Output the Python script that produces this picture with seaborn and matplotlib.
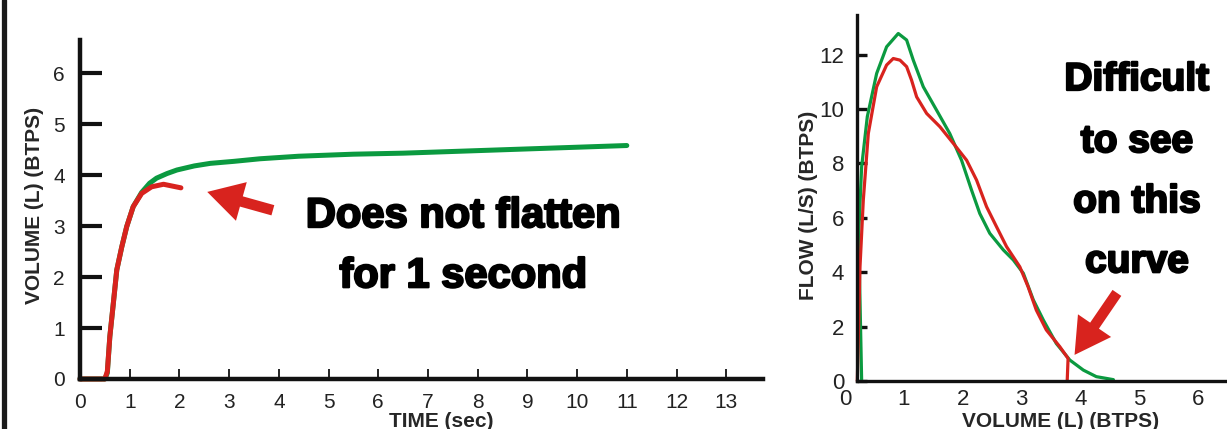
import matplotlib
matplotlib.use("Agg")
import matplotlib.pyplot as plt
import matplotlib.patheffects as pe
from matplotlib.lines import Line2D
import seaborn as sns
import numpy as np

# ---------------- data ----------------
# Volume-time curves (left panel)
vt_green_time = [0, 0.5, 0.55, 0.6, 0.67, 0.74, 0.84, 0.94, 1.07, 1.24, 1.4, 1.54,
                 1.75, 1.95, 2.3, 2.62, 3.1, 3.62, 4.4, 5.5, 6.5, 8.0, 9.5, 11.0]
vt_green_vol = [0, 0, 0.12, 0.83, 1.48, 2.14, 2.59, 2.99, 3.38, 3.66, 3.84, 3.94,
                4.03, 4.1, 4.18, 4.23, 4.27, 4.32, 4.37, 4.41, 4.43, 4.48, 4.53, 4.58]
vt_red_time = [0, 0.5, 0.55, 0.6, 0.67, 0.74, 0.84, 0.94, 1.07, 1.24, 1.44, 1.68, 1.88, 2.03]
vt_red_vol = [0, 0, 0.15, 0.83, 1.48, 2.14, 2.59, 2.99, 3.38, 3.64, 3.77, 3.82, 3.78, 3.75]

# Flow-volume curves (right panel)
fv_green_vol = [0.283, 0.255, 0.232, 0.283, 0.379, 0.538, 0.707, 0.905, 1.047, 1.16,
                1.33, 1.556, 1.78, 1.98, 2.15, 2.29, 2.46, 2.69, 2.86, 3.03, 3.2,
                3.37, 3.59, 3.82, 4.05, 4.27, 4.56]
fv_green_flow = [0.0, 2.98, 5.43, 7.88, 9.72, 11.31, 12.29, 12.78, 12.54, 11.8,
                 10.82, 9.96, 9.1, 8.12, 7.02, 6.16, 5.43, 4.82, 4.45, 3.96, 2.98,
                 2.24, 1.38, 0.77, 0.40, 0.16, 0.05]
fv_red_vol = [0.209, 0.255, 0.311, 0.396, 0.538, 0.707, 0.82, 0.934, 1.047, 1.13,
              1.217, 1.387, 1.613, 1.84, 2.066, 2.235, 2.405, 2.575, 2.745, 2.97,
              3.11, 3.25, 3.42, 3.65, 3.79, 3.775]
fv_red_flow = [0.0, 4.2, 6.65, 9.1, 10.82, 11.62, 11.86, 11.8, 11.56, 11.07,
               10.45, 9.84, 9.35, 8.74, 8.12, 7.39, 6.41, 5.67, 4.94, 4.2,
               3.47, 2.61, 1.88, 1.26, 0.83, 0.0]

left_xticks = list(range(0, 14))
left_yticks = list(range(0, 7))
right_xticks = list(range(0, 7))
right_yticks = [0, 2, 4, 6, 8, 10, 12]

left_note = ["Does not flatten", "for 1 second"]
right_note = ["Difficult", "to see", "on this", "curve"]

GREEN = "#0b9a40"
RED = "#d8231e"

# ---------------- style ----------------
sns.set_theme(style="white")
plt.rcParams["font.family"] = ["Liberation Sans", "DejaVu Sans"]

W, H = 1227, 429
fig = plt.figure(figsize=(W / 100, H / 100), dpi=100)
fig.patch.set_facecolor("white")

bold_fx = [pe.withStroke(linewidth=1.6, foreground="black")]

# ---------------- left panel ----------------
ax1 = fig.add_axes([80 / W, 50 / H, 683 / W, 339 / H])
ax1.set_facecolor("white")
sns.lineplot(x=vt_green_time, y=vt_green_vol, ax=ax1, color=GREEN, lw=3.6,
             sort=False, estimator=None, clip_on=False)
sns.lineplot(x=vt_red_time, y=vt_red_vol, ax=ax1, color=RED, lw=3.6,
             sort=False, estimator=None, clip_on=False)
ax1.set_xlim(0, 13.74)
ax1.set_ylim(0, 6.65)
for s in ["top", "right"]:
    ax1.spines[s].set_visible(False)
for s in ["left", "bottom"]:
    ax1.spines[s].set_linewidth(3.2)
    ax1.spines[s].set_color("#111111")
    ax1.spines[s].set_capstyle("projecting")
ax1.set_xticks(left_xticks)
ax1.set_yticks(left_yticks)
ax1.tick_params(axis="x", direction="in", length=7, width=1.3, color="#111111",
                labelsize=15, pad=10, bottom=True, labelcolor="#222222")
ax1.tick_params(axis="y", direction="in", length=16, width=3.0, color="#111111",
                labelsize=15, pad=11, left=True, labelcolor="#222222")
ax1.set_xlabel("TIME (sec)", fontsize=15, fontweight="bold")
ax1.xaxis.set_label_coords((441 - 80) / 683, (379 - 412) / 339)
ax1.xaxis.label.set_va("top")
ax1.set_ylabel("VOLUME (L) (BTPS)", fontsize=15, fontweight="bold")
ax1.yaxis.set_label_coords((35 - 80) / 683, (379 - 205) / 339)
ax1.yaxis.label.set_va("center")
ax1.yaxis.label.set_ha("center")

ax1.annotate("", xy=(2.56, 3.67), xytext=(3.88, 3.31),
             arrowprops=dict(arrowstyle="simple,head_length=1.5,head_width=1.7,tail_width=0.45",
                             color=RED, lw=0, mutation_scale=17, shrinkA=0, shrinkB=0))
ax1.text(7.71, 2.98, left_note[0], ha="center", va="baseline", fontsize=30,
         fontweight="bold", color="black", path_effects=bold_fx)
ax1.text(7.71, 1.80, left_note[1], ha="center", va="baseline", fontsize=30,
         fontweight="bold", color="black", path_effects=bold_fx)

# ---------------- right panel ----------------
x0 = 845 - 0.2 * 58.9
ax2 = fig.add_axes([x0 / W, 48 / H, (W - x0) / W, 366 / H])
ax2.set_facecolor("none")
sns.lineplot(x=fv_green_vol, y=fv_green_flow, ax=ax2, color=GREEN, lw=2.3,
             sort=False, estimator=None, clip_on=False)
sns.lineplot(x=fv_red_vol, y=fv_red_flow, ax=ax2, color=RED, lw=2.3,
             sort=False, estimator=None, clip_on=False)
ax2.set_xlim(-0.2, 6.49)
ax2.set_ylim(0, 13.46)
for s in ["top", "right"]:
    ax2.spines[s].set_visible(False)
for s in ["left", "bottom"]:
    ax2.spines[s].set_linewidth(2.4)
    ax2.spines[s].set_color("#111111")
ax2.spines["left"].set_position(("data", 0.2))
ax2.spines["bottom"].set_bounds(0.2, 6.49)
ax2.set_xticks(right_xticks)
ax2.set_yticks(right_yticks)
ax2.tick_params(axis="x", direction="in", length=0, labelsize=16, pad=6, bottom=True,
                labelcolor="#222222")
ax2.tick_params(axis="y", direction="in", length=7, width=2.4, color="#111111",
                labelsize=16, pad=9, left=True, labelcolor="#222222")
ax2.set_xlabel("VOLUME (L) (BTPS)", fontsize=15, fontweight="bold")
ax2.xaxis.set_label_coords((1061 - x0) / (W - x0), (381 - 412) / 366)
ax2.xaxis.label.set_va("top")
ax2.set_ylabel("FLOW (L/S) (BTPS)", fontsize=15, fontweight="bold")
ax2.yaxis.set_label_coords((809 - x0) / (W - x0), (381 - 205) / 366)
ax2.yaxis.label.set_va("center")
ax2.yaxis.label.set_ha("center")

ax2.annotate("", xy=(3.9, 0.96), xytext=(4.62, 3.24),
             arrowprops=dict(arrowstyle="simple,head_length=1.5,head_width=1.7,tail_width=0.45",
                             color=RED, lw=0, mutation_scale=17, shrinkA=0, shrinkB=0))
for txt, yb in zip(right_note, [10.7, 8.42, 6.21, 4.0]):
    ax2.text(4.96, yb, txt, ha="center", va="baseline", fontsize=28,
             fontweight="bold", color="black", path_effects=bold_fx)

# ---------------- decorations ----------------
fig.add_artist(Line2D([3.5 / W, 3.5 / W], [0, 1], color="#1a1a1a", lw=3.8,
                      transform=fig.transFigure))

fig.savefig("out.png", dpi=100, facecolor="white")
